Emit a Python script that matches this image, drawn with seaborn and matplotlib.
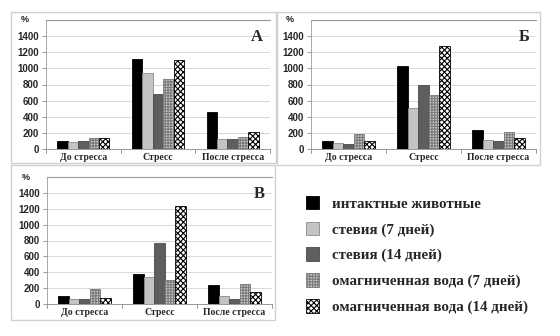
import matplotlib
matplotlib.use("Agg")
import matplotlib.pyplot as plt
import matplotlib.patches as mpatches
import seaborn as sns
import pandas as pd
import numpy as np

sns.set_theme(style="white")
plt.rcParams["font.family"] = ["Liberation Sans", "DejaVu Sans"]
plt.rcParams["hatch.linewidth"] = 0.8

periods = ["До стресса", "Стресс", "После стресса"]
groups = ["интактные животные", "стевия (7 дней)", "стевия (14 дней)",
          "омагниченная вода (7 дней)", "омагниченная вода (14 дней)"]

# values per group: [До стресса, Стресс, После стресса]
panel_a = {
    groups[0]: [100, 1120, 460],
    groups[1]: [90, 940, 120],
    groups[2]: [100, 680, 120],
    groups[3]: [140, 870, 150],
    groups[4]: [140, 1110, 210],
}
panel_b = {
    groups[0]: [100, 1025, 235],
    groups[1]: [75, 510, 115],
    groups[2]: [65, 790, 100],
    groups[3]: [180, 670, 210],
    groups[4]: [100, 1275, 140],
}
panel_v = {
    groups[0]: [100, 380, 245],
    groups[1]: [65, 345, 100],
    groups[2]: [65, 770, 65],
    groups[3]: [185, 305, 255],
    groups[4]: [80, 1240, 150],
}
panel_letters = ["А", "Б", "В"]
yticks = [0, 200, 400, 600, 800, 1000, 1200, 1400]

faces = ["#000000", "#c4c4c4", "#5e5e5e", "#c8c8c8", "#ffffff"]
edges = ["#000000", "#8a8a8a", "#4a4a4a", "#7a7a7a", "#000000"]
hatches = [None, None, None, "++++++", "xxxxxx"]

W, H = 560, 336
fig = plt.figure(figsize=(W / 100, H / 100), dpi=100)

def frac(l, t, r, b):
    return [l / W, 1 - b / H, (r - l) / W, (b - t) / H]

# panel frames
for (l, t, r, b) in [(11, 12, 276, 163), (277, 12, 540, 165), (11, 165, 275, 320)]:
    fig.add_artist(mpatches.Rectangle((l / W, 1 - b / H), (r - l) / W, (b - t) / H,
                                      transform=fig.transFigure, fill=False,
                                      edgecolor="#d0d0d0", linewidth=1.0))

axes_pos = [(46, 20, 270, 149), (311, 20, 536, 149), (47, 177, 272, 304)]
serif = ["Liberation Serif", "DejaVu Serif"]

for data, letter, pos in zip([panel_a, panel_b, panel_v], panel_letters, axes_pos):
    ax = fig.add_axes(frac(*pos))
    rows = []
    for g in groups:
        for p, v in zip(periods, data[g]):
            rows.append({"period": p, "group": g, "value": v})
    df = pd.DataFrame(rows)
    sns.barplot(data=df, x="period", y="value", hue="group", order=periods,
                hue_order=groups, palette=faces, width=0.7, ax=ax,
                legend=False, saturation=1)
    for i, cont in enumerate(ax.containers):
        for bar in cont:
            bar.set_facecolor(faces[i])
            bar.set_edgecolor(edges[i])
            bar.set_linewidth(0.6)
            if hatches[i]:
                bar.set_hatch(hatches[i])
    ax.set_ylim(0, 1600)
    ax.set_xlim(-0.5, 2.5)
    ax.set_yticks(yticks)
    ax.set_yticklabels([str(y) for y in yticks], fontsize=7, fontweight="bold")
    ax.set_xticks([0, 1, 2])
    ax.set_xticklabels(periods, fontsize=7, fontweight="bold", family=serif)
    ax.tick_params(axis="x", length=0, pad=3)
    ax.tick_params(axis="y", length=3, width=0.6, color="#888888", pad=2, left=True)
    # category boundary ticks
    for xb in [-0.5, 0.5, 1.5, 2.5]:
        ax.plot([xb, xb], [0, -45], color="#888888", lw=0.6, clip_on=False)
    ax.set_xlabel("")
    ax.set_ylabel("")
    ax.grid(axis="y", color="#d8d8d8", linewidth=0.7)
    ax.set_axisbelow(True)
    ax.spines["right"].set_visible(False)
    ax.spines["top"].set_color("#999999")
    ax.spines["top"].set_linewidth(0.8)
    ax.spines["left"].set_color("#999999")
    ax.spines["left"].set_linewidth(0.6)
    ax.spines["bottom"].set_color("#888888")
    ax.spines["bottom"].set_linewidth(0.6)
    ax.text(-0.075, 1.0, "%", transform=ax.transAxes, ha="right", va="center",
            fontsize=6.5, fontweight="bold")
    ax.text(0.97, 0.93, letter, transform=ax.transAxes, ha="right", va="top",
            fontsize=12, fontweight="bold", family=serif)

handles = []
for i in range(5):
    handles.append(mpatches.Patch(facecolor=faces[i], edgecolor=edges[i],
                                  hatch=hatches[i], linewidth=0.6))
fig.legend(handles, groups, loc="upper left", bbox_to_anchor=(300 / W, 1 - 190 / H),
           frameon=False, prop={"family": serif, "weight": "bold", "size": 10.8},
           handlelength=0.85, handleheight=1.0, handletextpad=0.9,
           labelspacing=0.72, borderaxespad=0)

fig.savefig("out.png", dpi=100, facecolor="white")
